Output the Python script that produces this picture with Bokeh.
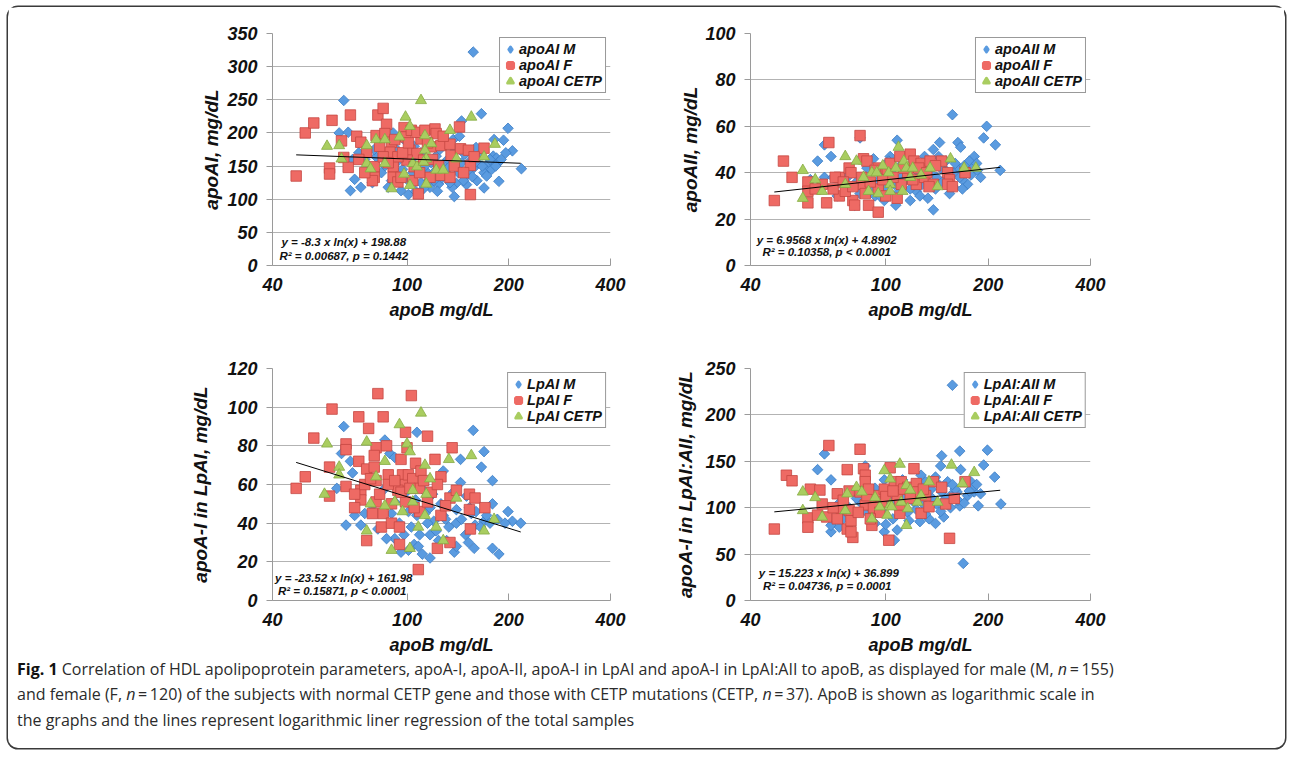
import numpy as np
from bokeh.plotting import figure
from bokeh.models import Range1d, FixedTicker, Legend, LegendItem, Label, Div, NumeralTickFormatter
from bokeh.layouts import row, column
from bokeh.embed import file_html
from bokeh.resources import INLINE

# ---------------- data ----------------
X_TICKS = [40, 100, 200, 400]

# Panel 1: apoAI
apoB_M_1 = [157,65,63,67,68,73,70,72,91,145,166,199,193,205,218,187,169,138,150,140,181,180,184,171,169,158,161,151,139,137,128,124,117,112,101,96,90,81,79,86,95,105,108,115,122,132,145,155,175,186,120,100,130,165,110,
            75,78,84,88,93,97,103,106,110,113,118,121,125,127,133,136,142,147,148,153,156,162,167,172,176,178,183,190,196,92,98,104,116,129,143,160,69,80,123,134]
apoAI_M = [322,249,200,201,113,118,130,170,200,218,229,207,189,173,146,127,117,104,122,124,190,165,162,146,140,148,128,137,174,190,149,123,118,116,107,113,128,164,125,150,165,180,150,140,165,160,155,160,155,155,128,130,135,170,125,
           160,145,140,118,155,145,160,112,170,150,155,142,175,132,148,118,140,128,168,145,134,155,150,135,160,145,150,160,170,178,190,140,128,185,195,178,160,175,112,125]
apoB_F_1 = [47,50,53,60,59,59,68,64,65,67,71,73,76,80,80,79,82,85,81,87,86,90,89,91,91,94,96,98,99,103,102,107,110,107,100,105,108,113,121,122,118,126,134,135,126,134,117,143,144,152,154,154,169,158,112,94,85,
            72,75,83,88,92,97,101,104,109,115,119,124,128,138,147]
apoAI_F = [135,200,215,219,147,138,227,188,163,148,195,186,171,149,133,128,227,237,196,213,199,186,171,149,133,126,133,208,194,204,174,169,191,201,159,149,108,204,206,199,179,181,183,166,136,133,133,209,176,174,151,107,177,164,159,164,164,
           160,140,180,155,190,170,185,128,140,185,160,150,195,150,140]
apoB_C_1 = [58,63,64,76,76,78,81,86,86,90,95,99,102,98,102,110,104,107,113,113,114,112,118,114,122,128,134,140,155,169,182]
apoAI_C = [180,181,161,181,154,146,190,190,154,116,194,224,210,138,121,249,154,149,196,174,161,156,184,123,144,144,204,161,224,164,183]

# Panel 2: apoAII
apoB_M_2 = [157,198,194,210,217,163,166,144,138,182,176,180,174,168,138,133,108,103,107,66,69,63,66,70,84,92,99,97,93,99,81,84,121,130,121,123,132,141,150,158,158,164,186,106,111,116,145,154,77,88,
            88,95,100,104,108,113,118,125,128,135,140,147,150,155,160,165,170,178,185,190,112,96,102,118,126,143,168,76,72,60,82,91]
apoAII_M = [65,60,55,52,41,53,51,53,50,47,45,42,35,37,24,29,54,47,26,52,47,45,38,38,55,46,42,38,30,28,26,31,45,47,34,32,37,38,41,40,34,42,41,35,38,42,42,31,38,42,
            35,36,33,40,31,36,33,40,35,40,33,36,45,38,44,38,43,39,44,38,44,30,45,28,30,47,33,33,30,37,36,33]
apoB_F_2 = [47,50,53,59,59,59,68,67,73,73,78,79,80,81,84,86,88,86,87,89,95,95,95,101,103,108,111,110,118,121,116,123,127,130,135,138,134,146,152,154,152,157,171,76,71,65,
            70,75,80,85,90,93,98,100,105,113,120,125,132,140,62]
apoAII_F = [28,45,38,36,32,27,53,27,38,30,42,40,28,26,56,46,45,35,31,26,23,42,33,40,44,29,35,47,48,45,40,35,44,38,45,35,34,45,40,37,35,34,40,32,38,35,
            33,36,34,38,36,41,37,30,38,42,37,42,40,43,33]
apoB_C_2 = [57,57,62,65,76,76,82,86,89,91,95,98,102,103,103,109,107,113,115,118,120,127,135,142,155,170,184,112,94]
apoAII_C = [41,29,37,32,47,35,45,38,32,40,31,43,40,35,32,51,42,45,42,38,42,39,42,34,46,42,42,32,40]

# Panel 3: apoA-I in LpAI
apoB_M_3 = [65,157,107,86,169,166,144,179,179,199,205,217,179,187,158,138,117,111,101,105,98,92,87,66,70,73,62,69,64,68,89,92,144,128,137,153,140,149,159,169,128,120,117,124,107,101,92,85,112,117,
            90,95,98,103,106,109,113,115,119,122,126,130,133,140,145,150,155,160,165,172,176,185,195,79,82,75,72,96,108,131,140,152]
LpAI_M = [90,88,87,83,77,69,73,62,50,46,41,40,27,24,27,25,22,24,26,29,34,32,32,39,44,39,58,66,76,72,76,74,61,67,56,48,40,34,39,41,44,41,34,31,44,46,51,57,57,48,
          45,40,55,38,52,34,45,40,55,36,50,42,38,47,42,54,45,46,38,44,40,42,40,49,37,45,55,25,28,31,28,30]
apoB_F_3 = [47,50,53,60,59,59,66,66,66,72,72,73,73,77,76,76,79,81,82,80,80,81,84,85,87,88,85,90,95,95,96,97,99,99,100,99,103,101,104,106,110,109,109,108,115,115,121,123,126,126,136,134,134,140,153,153,154,159,170,94,81,
            70,75,78,83,88,92,96,102,105,112,118,123,130,70,90]
LpAI_F = [58,64,84,99,69,54,81,78,59,95,72,57,52,89,68,31,45,79,107,75,69,62,38,95,80,65,45,40,29,38,73,65,60,51,79,87,106,65,63,71,67,58,46,16,85,51,73,27,64,44,79,53,30,57,55,47,37,53,48,57,51,
          55,60,63,55,60,62,56,58,48,62,56,60,49,48,50]
apoB_C_3 = [57,58,63,63,76,76,78,81,86,86,90,92,95,97,100,102,102,104,104,108,110,113,114,113,117,122,128,133,140,155,169,181]
LpAI_C = [55,81,69,65,82,36,50,64,72,49,26,51,91,46,81,77,27,57,51,38,97,70,55,44,63,38,31,73,53,75,36,42]

# Panel 4: apoA-I in LpAI:AII
apoB_M_4 = [157,169,66,63,69,87,146,145,165,166,199,194,209,218,187,165,182,178,140,148,134,126,108,106,99,93,69,69,73,99,93,127,140,137,146,155,162,174,180,121,116,106,101,84,81,88,129,111,152,
            90,95,98,103,105,110,114,117,120,123,128,131,136,141,145,150,155,160,163,170,176,185,190,78,82,75,73,112,131,143,157,100]
LpAIAII_M = [232,40,158,141,130,145,156,145,161,141,162,146,133,104,102,102,117,128,83,90,88,85,76,65,74,83,74,81,79,130,121,135,133,110,117,113,117,113,121,106,95,103,110,106,95,95,120,117,128,
             100,110,95,120,88,100,112,86,120,98,105,93,120,104,96,110,100,120,108,105,118,125,115,100,110,88,105,130,128,125,125,82]
apoB_F_4 = [47,51,53,59,59,60,64,65,68,63,67,72,77,77,80,79,78,79,84,86,87,87,84,87,91,93,95,99,102,103,106,108,110,111,116,121,123,124,127,131,134,138,146,150,154,159,171,97,88,74,
            70,75,78,83,89,92,96,100,105,110,113,118,129,72,90]
LpAIAII_F = [77,135,129,89,79,120,119,104,167,92,90,115,141,77,68,74,97,86,163,142,135,128,117,103,81,101,113,120,65,143,128,113,94,128,122,142,126,117,94,113,101,128,122,104,67,110,128,106,113,99,
             100,108,118,95,120,100,95,112,118,103,120,110,120,88,88]
apoB_C_4 = [57,57,62,65,76,77,82,85,91,93,96,99,101,103,103,104,110,111,115,116,115,118,124,134,142,156,168,182,127]
LpAIAII_C = [117,97,111,90,97,115,122,117,88,111,101,140,92,131,103,101,147,106,124,99,81,119,106,128,106,146,126,138,113]

# regression (y = a*ln(x) + b) over the apoB range of the samples
TREND_X = [47, 217]
SLOPES = [-8.3, 6.9568, -23.52, 15.223]
INTERCEPTS = [198.88, 4.8902, 161.98, 36.899]
EQ_TEXT = [("y = -8.3 x ln(x) + 198.88", "R\u00b2 = 0.00687, p = 0.1442"),
           ("y = 6.9568 x ln(x) + 4.8902", "R\u00b2 = 0.10358, p < 0.0001"),
           ("y = -23.52 x ln(x) + 161.98", "R\u00b2 = 0.15871,  p < 0.0001"),
           ("y = 15.223 x ln(x) + 36.899", "R\u00b2 = 0.04736,  p = 0.0001")]
LEGENDS = [["apoAI M", "apoAI F", "apoAI CETP"],
           ["apoAII M", "apoAII F", "apoAII CETP"],
           ["LpAI M", "LpAI F", "LpAI CETP"],
           ["LpAI:AII M", "LpAI:AII F", "LpAI:AII CETP"]]
Y_LABELS = ["apoAI, mg/dL", "apoAII, mg/dL", "apoA-I in LpAI, mg/dL", "apoA-I in LpAI:AII, mg/dL"]
Y_MAX = [350, 100, 120, 250]
Y_STEP = [50, 20, 20, 50]

# ---------------- styling ----------------
FONT = "Liberation Sans"
BLUE, BLUE_L = "#5a9be0", "#3b7cc4"
RED, RED_L = "#ee6a64", "#c54842"
GREEN, GREEN_L = "#a9cd60", "#86ab43"
AXIS_C = "#9a9a9a"
GRID_C = "#b3b3b3"
NAN = [float("nan")]


def panel(i, xm, ym, xf, yf, xc, yc, geom, ylab_so, eq_pos):
    ml, fw, mr, mt, fh, mb = geom
    p = figure(width=ml + fw + mr, height=mt + fh + mb, x_axis_type="log",
               x_range=Range1d(40, 400), y_range=Range1d(0, Y_MAX[i]),
               output_backend="svg", toolbar_location=None,
               min_border_left=ml, min_border_right=mr, min_border_top=mt, min_border_bottom=mb,
               background_fill_color="white", border_fill_color="white")
    p.outline_line_color = None
    p.xaxis.ticker = FixedTicker(ticks=X_TICKS)
    p.xaxis.formatter = NumeralTickFormatter(format="0")
    p.yaxis.ticker = FixedTicker(ticks=list(range(0, Y_MAX[i] + 1, Y_STEP[i])))
    for ax in (p.xaxis[0], p.yaxis[0]):
        ax.axis_line_color = AXIS_C
        ax.major_tick_line_color = AXIS_C
        ax.minor_tick_line_color = None
        ax.major_label_text_font = FONT
        ax.major_label_text_font_style = "bold italic"
        ax.major_label_text_font_size = "18px"
        ax.major_label_text_color = "#111111"
        ax.axis_label_text_font = FONT
        ax.axis_label_text_font_style = "bold italic"
        ax.axis_label_text_color = "#111111"
    p.xaxis.axis_label_text_font_size = "18px"
    p.yaxis.axis_label_text_font_size = "19px"
    p.xaxis.major_tick_in = 7
    p.xaxis.major_tick_out = 0
    p.yaxis.major_tick_in = 0
    p.yaxis.major_tick_out = 6
    p.xaxis.axis_label = "apoB mg/dL"
    p.yaxis.axis_label = Y_LABELS[i]
    p.xaxis.major_label_standoff = 12
    p.xaxis.axis_label_standoff = 6
    p.yaxis.major_label_standoff = 9
    p.yaxis.axis_label_standoff = ylab_so
    p.xgrid.grid_line_color = None
    p.ygrid.grid_line_color = GRID_C

    rm = p.scatter(xm, ym, marker="square", angle=np.pi / 4, size=7.5,
                   fill_color=BLUE, line_color=BLUE_L, line_width=0.8)
    rf = p.scatter(xf, yf, marker="square", size=10.5,
                   fill_color=RED, line_color=RED_L, line_width=0.8)
    rc = p.scatter(xc, yc, marker="triangle", size=11,
                   fill_color=GREEN, line_color=GREEN_L, line_width=0.8)
    tx = np.array(TREND_X, dtype=float)
    p.line(tx, SLOPES[i] * np.log(tx) + INTERCEPTS[i], line_color="black", line_width=1)

    ex, ey1, ey2 = eq_pos
    for txt, yy in ((EQ_TEXT[i][0], ey1), (EQ_TEXT[i][1], ey2)):
        p.add_layout(Label(x=ex, y=yy, text=txt, text_align="center", text_baseline="middle",
                           text_font=FONT, text_font_style="bold italic", text_font_size="11.5px",
                           text_color="#111111"))

    # legend swatch proxies (a single NaN point: invisible in the plot, larger in the legend)
    lm = p.scatter(NAN, NAN, marker="diamond", fill_color=BLUE,
                   line_color=BLUE, line_width=2.5, line_join="round")
    lf = p.scatter(NAN, NAN, marker="square", fill_color=RED, line_color=RED,
                   line_width=3.5)
    lc = p.scatter(NAN, NAN, marker="triangle", fill_color=GREEN, line_color=GREEN,
                   line_width=3.0, line_join="round")
    leg = Legend(items=[LegendItem(label=LEGENDS[i][0], renderers=[lm]),
                        LegendItem(label=LEGENDS[i][1], renderers=[rf, lf]),
                        LegendItem(label=LEGENDS[i][2], renderers=[rc, lc])],
                 location="top_right", margin=4, padding=3, spacing=0,
                 label_text_font=FONT, label_text_font_style="bold italic",
                 label_text_font_size="14.5px", label_text_color="#111111",
                 label_height=16, glyph_height=16, glyph_width=14, label_standoff=2,
                 border_line_color="#333333", border_line_width=1.5,
                 background_fill_color="white", background_fill_alpha=1.0)
    p.add_layout(leg)
    return p


p1 = panel(0, apoB_M_1, apoAI_M, apoB_F_1, apoAI_F, apoB_C_1, apoAI_C,
           (264, 338, 49, 26, 232, 60), 2, (65, 35.2, 14.0))
p2 = panel(1, apoB_M_2, apoAII_M, apoB_F_2, apoAII_F, apoB_C_2, apoAII_C,
           (91, 340, 194, 26, 232, 60), 1, (67, 11.2, 5.7))
p3 = panel(2, apoB_M_3, LpAI_M, apoB_F_3, LpAI_F, apoB_C_3, LpAI_C,
           (264, 338, 49, 43, 234, 60), 13, (65, 11.8, 5.0))
p4 = panel(3, apoB_M_4, LpAIAII_M, apoB_F_4, LpAIAII_F, apoB_C_4, LpAIAII_C,
           (91, 340, 194, 43, 232, 62), 6, (68, 29.8, 15.4))

caption_html = (
    '<div style="font-family:\'Open Sans\';font-size:16px;line-height:25.3px;color:#2b2b2b;'
    'white-space:nowrap;padding-left:4px;margin-top:-10px">'
    '<b style="color:#111">Fig. 1</b> Correlation of HDL apolipoprotein parameters, apoA-I, apoA-II, '
    'apoA-I in LpAI and apoA-I in LpAI:AII to apoB, as displayed for male (M, <i>n</i>&#8201;=&#8201;155)<br>'
    'and female (F, <i>n</i>&#8201;=&#8201;120) of the subjects with normal CETP gene and those with CETP '
    'mutations (CETP, <i>n</i>&#8201;=&#8201;37). ApoB is shown as logarithmic scale in<br>'
    'the graphs and the lines represent logarithmic liner regression of the total samples</div>')
caption = Div(text=caption_html, width=1277, height=86)

layout = column(row(p1, p2), row(p3, p4), caption, width=1277, height=741,
                styles={"box-shadow": "0 0 0 1.5px #3a3a3a", "border-radius": "10px",
                        "margin": "7px 0 0 8px"})

open("out.html", "w").write(file_html(layout, INLINE))
